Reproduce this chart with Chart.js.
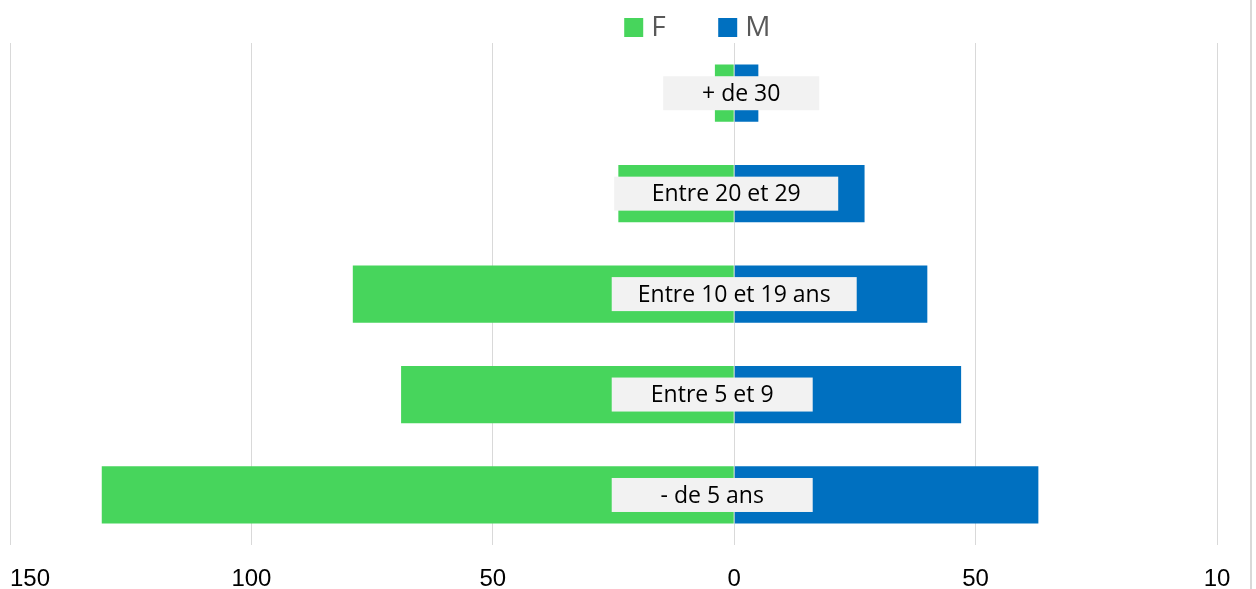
<!DOCTYPE html>
<html>
<head>
<meta charset="utf-8">
<script src="https://cdn.jsdelivr.net/npm/chart.js@4"></script>
<style>
  html, body { margin: 0; padding: 0; background: #fff; overflow: hidden; }
  #wrap { width: 1306px; height: 589px; position: relative; margin-left: -50px; }
</style>
</head>
<body>
<div id="wrap"><canvas id="pyramid"></canvas></div>
<script>
// DATA (top row first)
const ageGroups = ["+ de 30", "Entre 20 et 29", "Entre 10 et 19 ans", "Entre 5 et 9", "- de 5 ans"];
const femmes = [4, 24, 79, 69, 131];
const hommes = [5, 27, 40, 47, 63];
const tickValues = [-150, -100, -50, 0, 50, 100];
const tickLabels = ["150", "100", "50", "0", "50", "10"];

const colF = "#47D55C";
const colM = "#0070C0";

// label box look: [shift from zero line, box width]
const labelBoxes = [[7, 156], [-8, 224], [0, 245], [-22, 201], [-22, 201]];
const labelFont = "23px 'Open Sans', sans-serif";

// grey category boxes over the bars + legend at the top + right border
const decor = {
  id: "decor",
  afterDatasetsDraw(chart) {
    const ctx = chart.ctx;
    const x = chart.scales.x;
    const y = chart.scales.y;
    const zero = x.getPixelForValue(0);
    ctx.save();
    ctx.font = labelFont;
    ctx.textAlign = "center";
    ctx.textBaseline = "middle";
    ageGroups.forEach((name, i) => {
      const cy = y.getPixelForValue(i);
      const [dx, w] = labelBoxes[i];
      const cx = zero + dx;
      ctx.fillStyle = "#f2f2f2";
      ctx.fillRect(cx - w / 2, cy - 17, w, 34);
      ctx.fillStyle = "#000";
      ctx.fillText(name, cx, cy + 1);
    });

    // legend
    ctx.font = "28px 'Open Sans', sans-serif";
    ctx.textAlign = "left";
    const items = [
      { text: chart.data.datasets[0].label, color: colF, left: zero - 110 },
      { text: chart.data.datasets[1].label, color: colM, left: zero - 16 }
    ];
    items.forEach(it => {
      ctx.fillStyle = it.color;
      ctx.fillRect(it.left, 18, 19, 19);
      ctx.fillStyle = "#595959";
      ctx.fillText(it.text, it.left + 27, 28);
    });

    // right border line
    ctx.fillStyle = "#d9d9d9";
    ctx.fillRect(chart.chartArea.right + 33, 0, 2, chart.height);
    ctx.restore();
  }
};

new Chart(document.getElementById("pyramid"), {
  type: "bar",
  data: {
    labels: ageGroups,
    datasets: [
      {
        label: "F",
        data: femmes.map(v => -v),
        backgroundColor: colF,
        barPercentage: 0.57,
        categoryPercentage: 1
      },
      {
        label: "M",
        data: hommes,
        backgroundColor: colM,
        barPercentage: 0.57,
        categoryPercentage: 1
      }
    ]
  },
  options: {
    indexAxis: "y",
    responsive: true,
    maintainAspectRatio: false,
    animation: false,
    layout: { autoPadding: false, padding: { left: 10, right: 39, top: 43, bottom: -25 } },
    plugins: {
      legend: { display: false },
      tooltip: { enabled: false }
    },
    scales: {
      x: {
        stacked: true,
        min: -150,
        max: 100,
        afterBuildTicks: axis => {
          axis.ticks = tickValues.map(v => ({ value: v }));
        },
        grid: { color: "#d9d9d9", lineWidth: 1, drawTicks: false },
        border: { display: false },
        ticks: {
          padding: 20,
          color: "#000",
          maxRotation: 0,
          font: { size: 24, family: "'Liberation Sans', Arial, sans-serif" },
          callback: (v) => {
            const s = tickLabels[tickValues.indexOf(v)];
            // first label sits inside the frame in the original
            return v === tickValues[0] ? "      " + s : s;
          }
        }
      },
      y: {
        stacked: true,
        display: false
      }
    }
  },
  plugins: [decor]
});
</script>
</body>
</html>
